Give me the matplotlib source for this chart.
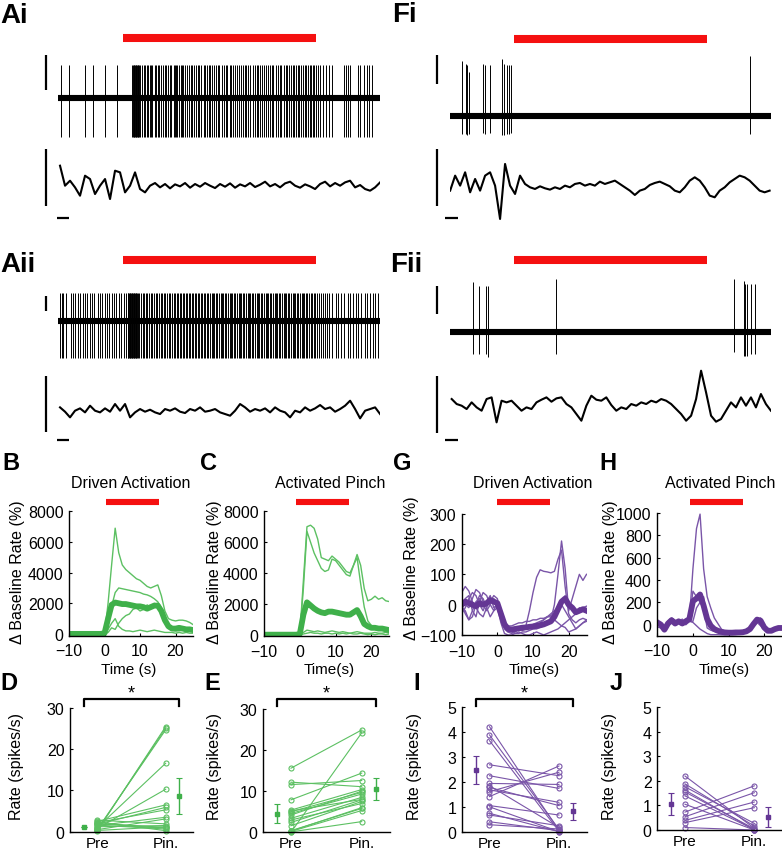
import numpy as np
import matplotlib
matplotlib.use('Agg')
import matplotlib.pyplot as plt
from matplotlib.transforms import blended_transform_factory as btf

plt.rcParams['font.family'] = ['Liberation Sans', 'DejaVu Sans']

# ======================= DATA =======================
# --- raw traces (spike times in s, relative to stimulus onset) ---
ai_spikes = [-4.82, -4.20, -2.90, -2.33, -1.40, -0.41,
             0.75, 0.80, 0.85, 0.90, 0.95, 1.00, 1.05, 1.10, 1.16, 1.22, 1.28, 1.35,
             1.50, 1.62, 1.70, 1.85, 1.93, 2.10, 2.22, 2.30, 2.48, 2.60, 2.75, 2.83, 3.00, 3.12,
             3.30, 3.38, 3.55, 3.70, 3.78, 3.95, 4.10, 4.18, 4.25, 4.40, 4.55, 4.62, 4.70, 4.85,
             5.00, 5.12, 5.30, 5.40, 5.55, 5.70, 5.85, 5.93, 6.10, 6.28, 6.40, 6.55, 6.70, 6.78,
             6.95, 7.10, 7.25, 7.40, 7.50, 7.68, 7.85, 8.00, 8.12, 8.30, 8.45, 8.60, 8.70, 8.88,
             9.05, 9.20, 9.35, 9.50, 9.58, 9.75, 9.92, 10.10, 10.25, 10.40, 10.50, 10.70, 10.85,
             11.00, 11.15, 11.30, 11.45, 11.60, 11.70, 11.90, 12.05, 12.20, 12.30, 12.50, 12.65,
             12.80, 12.90, 13.05, 13.20, 13.30, 13.45, 13.60, 13.72, 13.85, 14.00, 14.15, 14.25,
             14.40, 14.55, 14.62, 14.75, 14.90, 15.05, 15.20, 15.35, 15.55, 15.80, 16.05, 16.30,
             17.20, 17.35, 17.50, 17.65, 18.30, 18.45, 18.75, 18.95, 19.10, 19.35]
aii_spikes = [-4.90, -4.75, -4.60, -4.40, -4.05, -3.90, -3.70, -3.50, -3.35, -3.10, -2.95, -2.80,
              -2.55, -2.40, -2.20, -1.95, -1.80, -1.60, -1.40, -1.25, -1.05, -0.85, -0.70, -0.50,
              -0.30, -0.10, 0.10, 0.25,
              0.40, 0.45, 0.50, 0.55, 0.60, 0.65, 0.70, 0.75, 0.80, 0.85, 0.90, 0.95, 1.00, 1.05,
              1.10, 1.15,
              1.30, 1.42, 1.55, 1.68, 1.80, 1.90, 2.05, 2.18, 2.30, 2.40, 2.55, 2.70, 2.80, 2.95,
              3.08, 3.20, 3.30, 3.45, 3.60, 3.70, 3.82, 3.95, 4.10, 4.20, 4.32, 4.45, 4.55, 4.68,
              4.80, 4.90, 5.02, 5.15, 5.25, 5.38, 5.50, 5.60, 5.72, 5.85, 5.95, 6.08, 6.20, 6.30,
              6.42, 6.55, 6.65, 6.78, 6.90, 7.00, 7.12, 7.25, 7.35, 7.48, 7.60, 7.70, 7.82, 7.95,
              8.05, 8.18, 8.30, 8.40, 8.52, 8.65, 8.75, 8.88, 9.00, 9.10, 9.22, 9.35, 9.45, 9.58,
              9.70, 9.80, 9.92, 10.05, 10.15, 10.28, 10.40, 10.50, 10.62, 10.75, 10.85, 10.98,
              11.10, 11.20, 11.32, 11.45, 11.55, 11.68, 11.80, 11.90, 12.02, 12.15, 12.25, 12.38,
              12.50, 12.60, 12.72, 12.85, 12.95, 13.08, 13.20, 13.30, 13.42, 13.55, 13.65, 13.78,
              13.90, 14.00, 14.12, 14.25, 14.35, 14.48, 14.60, 14.72, 14.85, 14.98, 15.10, 15.25,
              15.40, 15.55, 15.70, 15.85, 16.00,
              16.30, 16.55, 16.70, 17.00, 17.20, 17.50, 17.70, 17.90, 18.15, 18.30, 18.55, 18.80,
              19.00, 19.20, 19.45, 19.60, 19.85]
fi_spikes = [-4.10, -3.76, -3.66, -3.53, -2.41, -2.26, -1.89, -0.98, -0.78, -0.59, -0.44, -0.26, 18.37]
fi_up = [1.24, 1.16, 1.13, 0.98, 1.16, 1.13, 1.13, 1.27, 1.16, 1.13, 1.13, 1.13, 1.35]
fi_down = [-0.39, -0.39, -0.41, -0.39, -0.37, -0.39, -0.37, -0.41, -0.41, -0.39, -0.39, -0.37, -0.39]
fii_spikes = [-3.24, -2.72, -2.21, -2.03, 3.22, 17.12, 17.90, 18.00, 18.11, 18.45, 18.76]
fii_up = [1.11, 1.04, 1.04, 1.04, 1.18, 1.18, 1.15, 1.08, 1.08, 1.08, 1.08]
fii_down = [-0.48, -0.48, -0.48, -0.55, -0.48, -0.44, -0.52, -0.52, -0.52, -0.48, -0.48]

# --- field potentials (arbitrary units, evenly sampled over the trace) ---
ai_lfp = [0.60, 0.00, 0.15, -0.05, -0.30, 0.30, 0.20, -0.25, 0.00, 0.20, -0.40, 0.45, 0.40,
          -0.20, 0.00, 0.40, -0.10, -0.20, 0.00, 0.08, -0.05, 0.05, -0.08, 0.04, -0.02, 0.08,
          -0.06, 0.05, -0.03, 0.08, 0.00, -0.07, 0.05, -0.03, 0.07, -0.06, 0.04, -0.02, 0.08,
          -0.04, 0.03, 0.12, -0.02, 0.05, -0.05, 0.07, 0.12, 0.00, -0.06, 0.04, -0.02, -0.10,
          0.05, 0.12, -0.02, 0.08, 0.00, 0.10, 0.15, -0.05, 0.02, -0.10, -0.15, -0.05, 0.10]
aii_lfp = [0.10, -0.03, -0.20, 0.00, 0.07, -0.05, 0.15, 0.00, -0.05, 0.07, -0.03, 0.20, 0.00,
           0.20, -0.20, -0.05, 0.05, -0.03, 0.03, -0.05, -0.10, 0.05, 0.00, 0.07, -0.03, -0.07,
           0.05, 0.00, 0.10, -0.03, 0.00, 0.05, -0.05, -0.10, -0.15, 0.00, 0.20, 0.10, -0.03,
           0.05, 0.00, 0.07, -0.05, 0.10, 0.00, -0.05, -0.20, 0.00, -0.05, 0.10, 0.00, 0.07,
           0.17, 0.05, 0.10, -0.03, 0.05, 0.15, 0.30, 0.05, -0.23, 0.00, 0.05, 0.10, -0.10]
fi_lfp = [-0.10, 0.35, 0.05, 0.45, -0.15, 0.25, -0.10, 0.35, 0.45, 0.05, -0.95, 0.70, 0.05,
          -0.20, 0.35, 0.10, 0.00, -0.05, 0.03, -0.03, -0.07, 0.00, -0.05, 0.05, 0.00, 0.10,
          0.13, 0.05, 0.10, 0.05, 0.17, 0.10, 0.15, 0.20, 0.10, 0.00, -0.10, -0.23, -0.10,
          -0.05, 0.07, 0.13, 0.17, 0.10, 0.03, -0.10, -0.15, 0.00, 0.20, 0.30, 0.20, 0.00,
          -0.25, -0.30, -0.10, 0.00, 0.15, 0.25, 0.35, 0.30, 0.20, 0.05, -0.10, -0.15, -0.10]
fii_lfp = [0.20, 0.05, 0.00, -0.10, 0.10, -0.05, -0.15, 0.20, 0.25, -0.50, 0.15, 0.10, 0.15,
           0.00, -0.15, -0.05, -0.10, 0.10, 0.18, 0.25, 0.12, 0.22, 0.25, 0.05, -0.05, -0.25,
           -0.45, 0.00, 0.30, 0.18, 0.15, 0.25, 0.02, -0.15, -0.05, -0.10, 0.05, 0.00, 0.10,
           0.05, 0.15, 0.10, 0.20, 0.15, 0.05, -0.10, -0.25, -0.45, -0.30, 0.20, 1.05, 0.40,
           -0.30, -0.48, -0.40, -0.15, 0.10, -0.05, 0.25, 0.00, 0.25, -0.05, 0.35, 0.05, -0.15]

# --- rate time courses (% change from baseline), 1-s bins from -10 to 25 s ---
t_bins = np.arange(-10, 26)
b_traces = [
    [0, 20, 0, 10, 0, 0, 20, 0, 10, 0, 0, 2000, 4500, 6900, 5300, 4500, 4200, 4000, 3800, 3600,
     3500, 3300, 3100, 3000, 3100, 3200, 2500, 1500, 1000, 900, 850, 900, 900, 850, 750, 600],
    [0, 0, 10, 0, 0, 20, 0, 0, 0, 10, 0, 800, 1800, 2700, 3000, 2950, 2900, 2850, 2800, 2750,
     2700, 2600, 2550, 2450, 2300, 2100, 1700, 1100, 500, 300, 300, 250, 300, 250, 300, 350],
    [10, 0, 0, 0, 10, 0, 0, 10, 0, 0, 0, 100, 400, 300, 700, 1000, 1200, 1300, 1600, 1700,
     1500, 1600, 1900, 1700, 2000, 1800, 1400, 800, 400, 250, 200, 200, 250, 200, 200, 150],
    [0, 10, 0, 0, 0, 10, 0, 0, 20, 0, 0, 300, 700, 1000, 500, 300, 200, 200, 150, 200,
     250, 200, 150, 200, 250, 200, 150, 100, 100, 100, 50, 100, 50, 100, 50, 50],
]
b_mean = [0, 5, 5, 5, 5, 5, 5, 5, 5, 5, 50, 1000, 1900, 2050, 2000, 1950, 1950, 1900, 1850, 1800,
          1800, 1750, 1650, 1750, 1850, 1850, 1500, 900, 500, 350, 350, 400, 350, 300, 300, 250]
c_traces = [
    [0, 10, 0, 0, 20, 0, 0, 10, 0, 0, 0, 3500, 7000, 7100, 6900, 6200, 5000, 4900, 4800, 5100,
     4900, 4700, 4400, 4100, 4000, 4500, 5200, 4500, 3000, 2200, 2300, 2500, 2300, 2400, 2200, 2150],
    [0, 0, 10, 0, 0, 10, 0, 0, 0, 10, 0, 3000, 6700, 6000, 5300, 4800, 4300, 4100, 4200, 4900,
     4800, 4500, 4200, 3900, 3800, 4500, 5000, 3300, 1800, 900, 600, 450, 400, 350, 300, 300],
    [0, 0, 0, 10, 0, 0, 10, 0, 0, 0, 0, 150, 300, 250, 200, 250, 200, 150, 200, 250,
     200, 150, 200, 150, 100, 150, 200, 150, 100, 100, 100, 150, 100, 100, 150, 100],
    [10, 0, 0, 0, 0, 0, 0, 10, 0, 0, 0, 50, 100, 150, 100, 100, 50, 100, 100, 50,
     100, 50, 100, 50, 100, 50, 50, 100, 50, 0, 50, 0, 50, 50, 0, 50],
]
c_mean = [0, 5, 5, 5, 5, 5, 5, 5, 5, 5, 50, 1300, 2100, 1900, 1700, 1550, 1450, 1400, 1500, 1500,
          1450, 1400, 1350, 1300, 1300, 1450, 1600, 1200, 700, 550, 450, 450, 400, 400, 350, 300]
g_traces = [
    [40, 60, 45, 10, -10, -30, -40, -10, 20, 10, 0, -50, -80, -90, -95, -90, -80, -75, -70, -20,
     40, 90, 115, 110, 108, 105, 110, 150, 180, 60, -30, -50, -60, -50, -45, -50],
    [-30, -10, 20, 40, 30, 0, -20, 10, 30, -10, 0, -40, -70, -85, -90, -95, -95, -90, -90, -85,
     -80, -80, -75, -70, -60, -50, 0, 100, 210, 120, -20, 20, 60, 100, 80, 100],
    [0, 20, 30, -20, -40, 10, 40, 30, 0, -20, 10, -50, -75, -80, -85, -80, -75, -70, -75, -70,
     -65, -60, -55, -50, -40, -35, -30, -20, 0, 30, 10, -20, -30, -10, -20, -15],
    [-10, -20, -50, -40, 0, 30, 20, -10, -40, -20, -10, -60, -95, -100, -100, -95, -90, -95, -100, -100,
     -95, -90, -95, -100, -95, -90, -85, -80, -70, -75, -90, -85, -80, -70, -60, -50],
    [10, 0, -10, 20, 50, 40, 10, 0, 10, 30, 20, -30, -70, -90, -85, -80, -80, -85, -80, -75,
     -70, -65, -60, -50, -40, -30, -20, -10, 0, -20, -40, -60, -80, -70, -60, -55],
    [0, -30, -50, -20, 10, 20, 0, -20, 0, 20, 0, -40, -60, -70, -70, -65, -60, -60, -55, -55,
     -50, -50, -45, -45, -40, -40, -50, -60, -70, -60, -50, -40, -30, -20, -10, -5],
]
g_mean = [0, 10, 5, 0, -5, 5, 0, 5, 15, 10, 5, -30, -65, -80, -82, -80, -78, -76, -75, -73,
          -72, -70, -68, -65, -60, -55, -40, -15, 10, 20, 0, -10, -25, -20, -15, -20]
h_traces = [
    [40, 0, -30, 20, 50, 20, 40, 20, 40, 40, 500, 860, 990, 500, 250, 150, 60, 10, -40, -60,
     -70, -75, -75, -75, -75, -70, -50, 0, 40, 60, 0, -50, -60, -40, -30, -30],
    [-20, -30, -40, 0, 30, 0, 20, 30, 0, 30, 20, -10, -40, -60, -80, -90, -90, -90, -92, -92,
     -90, -90, -90, -85, -80, -70, -40, 0, 20, -10, -40, -60, -60, -50, -40, -40],
    [10, 20, -30, 30, 60, 40, 20, 50, 0, 30, 30, 150, 200, 250, 20, -20, -50, -60, -70, -75,
     -80, -80, -75, -75, -70, -65, -30, 20, 60, 50, -10, -40, -50, -30, -20, -20],
    [30, 10, -50, 0, 40, 20, 30, 40, 20, 50, 300, 250, 200, 150, -30, -50, -60, -70, -70, -75,
     -75, -70, -70, -72, -70, -60, -50, 0, 50, 40, -20, -50, -50, -40, -30, -30],
]
h_mean = [20, 0, -45, 10, 40, 10, 30, 10, 30, 50, 210, 235, 270, 170, 50, -10, -40, -55, -65, -70,
          -72, -72, -70, -70, -68, -60, -40, 5, 45, 35, -25, -55, -55, -40, -30, -30]
stim_B = (0.4, 15.4)
stim_C = (-1.0, 13.8)
stim_G = (-0.2, 14.7)
stim_H = (-0.8, 14.1)

# --- firing rates (spikes/s), paired Pre vs Pinch ---
pre_D = [0.2, 0.4, 0.6, 1.0, 0.8, 2.5, 1.8, 2.2, 1.5, 0.5, 2.8, 1.2, 2.0, 1.6, 2.4, 0.3, 1.9]
pin_D = [25.5, 25.1, 24.7, 16.6, 10.3, 6.5, 5.9, 5.3, 3.5, 3.1, 1.9, 1.5, 1.05, 0.65, 0.25, 1.2, 0.9]
mean_D = [1.2, 8.7]
err_D = [0.0, 4.4]
pre_E = [15.6, 12.2, 11.6, 7.9, 5.4, 5.0, 4.6, 3.4, 2.4, 1.6, 0.4, 0.2, 0.0, 0.1, 4.2, 3.0, 0.3, 5.2]
pin_E = [24.9, 11.1, 12.6, 14.4, 10.4, 9.7, 9.3, 8.5, 7.9, 7.5, 5.8, 5.3, 24.2, 2.6, 10.0, 7.0, 6.0, 8.0]
mean_E = [4.5, 10.5]
err_E = [2.3, 2.6]
pre_I = [4.22, 3.89, 3.66, 2.69, 2.25, 1.94, 1.85, 1.78, 1.68, 1.61, 1.41, 1.05, 0.74, 0.67, 0.40, 0.28, 1.0]
pin_I = [0.05, 0.10, 0.02, 2.25, 1.74, 1.90, 0.17, 1.05, 1.18, 2.39, 2.64, 0.67, 0.0, 0.24, 0.04, 0.11, 0.0]
mean_I = [2.48, 0.82]
err_I = [0.57, 0.33]
pre_J = [2.2, 1.88, 1.76, 1.63, 1.55, 1.39, 1.05, 0.73, 0.54, 0.39, 0.30, 0.10]
pin_J = [0.07, 0.16, 0.27, 0.0, 0.05, 0.02, 0.0, 1.8, 1.52, 1.14, 0.91, 0.0]
mean_J = [1.07, 0.53]
err_J = [0.45, 0.42]
cond_labels = ['Pre', 'Pin.']

# ======================= STYLE / LAYOUT =======================
GREEN = '#3fb04a'
GREEN_L = '#5cc062'
PURPLE = '#643694'
PURPLE_L = '#7a55a8'
RED = '#f51010'

W, H = 782, 853
fig = plt.figure(figsize=(W / 100, H / 100), dpi=100)


def ax_px(x0, y0, x1, y1):
    return fig.add_axes([x0 / W, 1 - y1 / H, (x1 - x0) / W, (y1 - y0) / H])


def ftext(x, y, s, **kw):
    fig.text(x / W, 1 - y / H, s, **kw)


def fy(y):
    return 1 - y / H


def trace_panel(x0, x1, base_y, lfp_y, bar_y, spikes, up, down, lfp, lfp_t0, lfp_t1,
                sb_spk, sb_lfp, hb_y, hb_t, sb_t):
    # spike channel (45 px per unit)
    ax = ax_px(x0, base_y - 67.5, x1, base_y + 67.5)
    ax.set_xlim(-5, 20)
    ax.set_ylim(-1.5, 1.5)
    ax.axis('off')
    ax.hlines(0, -5, 20, color='k', lw=4.4)
    ax.vlines(spikes, down, up, color='k', lw=0.7)
    ax.plot([sb_t, sb_t], sb_spk, color='k', lw=1.6, clip_on=False, solid_capstyle='butt')
    tr = btf(ax.transData, fig.transFigure)
    ax.plot([0, 15], [fy(bar_y), fy(bar_y)], color=RED, lw=5.8, transform=tr,
            clip_on=False, solid_capstyle='butt')
    # field potential channel (33.3 px per unit)
    ax2 = ax_px(x0, lfp_y - 40, x1, lfp_y + 40)
    ax2.set_xlim(-5, 20)
    ax2.set_ylim(-1.2, 1.2)
    ax2.axis('off')
    ax2.plot(np.linspace(lfp_t0, lfp_t1, len(lfp)), lfp, color='k', lw=1.5)
    ax2.plot([sb_t, sb_t], sb_lfp, color='k', lw=1.6, clip_on=False, solid_capstyle='butt')
    ax2.plot(hb_t, [hb_y, hb_y], color='k', lw=1.6, clip_on=False, solid_capstyle='butt')


trace_panel(58.35, 380.1, 98.7, 186.7, 39.2, ai_spikes, 0.73, -0.88, ai_lfp, -4.87, 20.0,
            (0.95, 0.18), (1.1, -0.6), -0.98, (-5.13, -4.2), -5.96)
trace_panel(58.35, 380.1, 322.3, 411.7, 261.3, aii_spikes, 0.64, -0.82, aii_lfp, -4.87, 20.0,
            (0.57, 0.24), (1.05, -0.65), -0.87, (-5.08, -4.15), -5.96)
trace_panel(450.15, 770.9, 117.3, 188.3, 39.5, fi_spikes, fi_up, fi_down, fi_lfp, -5.0, 19.9,
            (1.36, 0.72), (1.15, -0.55), -0.93, (-5.4, -4.37), -6.0)
trace_panel(450.15, 770.9, 333.3, 406.7, 261.0, fii_spikes, fii_up, fii_down, fii_lfp, -4.88, 20.0,
            (1.04, 0.41), (0.9, -0.82), -1.02, (-5.4, -4.37), -6.0)

LBL = dict(fontsize=20, fontweight='bold', va='center', ha='left')
ftext(0, 16, 'Ai', **LBL)
ftext(0, 265, 'Aii', **LBL)
ftext(392, 15, 'Fi', **LBL)
ftext(390, 265, 'Fii', **LBL)


def style(ax):
    for s in ['top', 'right']:
        ax.spines[s].set_visible(False)
    for s in ['left', 'bottom']:
        ax.spines[s].set_linewidth(1.0)
    ax.tick_params(direction='in', length=2, width=0.8, labelsize=11.5, pad=4)


def rate_panel(box, traces, mean, color, light, ylim, yticks, stim, title, tx, xlab, xl_x, yl_x,
               xpad, xl_y, yl_y=572):
    ax = ax_px(*box)
    for tr_ in traces:
        ax.plot(t_bins, tr_, color=light, lw=1.0)
    ax.plot(t_bins, mean, color=color, lw=4.2, solid_joinstyle='round')
    ax.set_xlim(-10, 25)
    ax.set_ylim(*ylim)
    ax.set_xticks([-10, 0, 10, 20])
    ax.set_yticks(yticks)
    style(ax)
    ax.tick_params(axis='x', pad=xpad)
    tr = btf(ax.transData, fig.transFigure)
    ax.plot(stim, [fy(503), fy(503)], color=RED, lw=4.4, transform=tr, clip_on=False,
            solid_capstyle='butt')
    ftext(tx, 483.5, title, fontsize=11.5, ha='center', va='center')
    ftext(xl_x, xl_y, xlab, fontsize=11, ha='center', va='center')
    ftext(yl_x, yl_y, '\u0394 Baseline Rate (%)', fontsize=11.5, ha='center', va='center',
          rotation=90)
    return ax


rate_panel((69, 512.3, 193.3, 636.5), b_traces, b_mean, GREEN, GREEN_L, (-100, 8000),
           [0, 2000, 4000, 6000, 8000], stim_B, 'Driven Activation', 131, 'Time (s)', 128.5, 18,
           5.5, 670)
rate_panel((264, 512.3, 389.3, 637.3), c_traces, c_mean, GREEN, GREEN_L, (-100, 8000),
           [0, 2000, 4000, 6000, 8000], stim_C, 'Activated Pinch', 330, 'Time(s)', 329, 214,
           5.5, 670)
rate_panel((461.7, 514.7, 586.5, 636.0), g_traces, g_mean, PURPLE, PURPLE_L, (-100, 300),
           [-100, 0, 100, 200, 300], stim_G, 'Driven Activation', 533, 'Time(s)', 534, 411.5,
           6.5, 670, 568)
rate_panel((657.3, 514.0, 782, 636.8), h_traces, h_mean, PURPLE, PURPLE_L, (-100, 1000),
           [0, 200, 400, 600, 800, 1000], stim_H, 'Activated Pinch', 720, 'Time(s)', 724, 611,
           5.5, 670)

LBL2 = dict(fontsize=17, fontweight='bold', va='center', ha='left')
ftext(2, 464, 'B', **LBL2)
ftext(200, 464, 'C', **LBL2)
ftext(393, 464, 'G', **LBL2)
ftext(599, 464, 'H', **LBL2)
ftext(0, 683.5, 'D', **LBL2)
ftext(204, 683.5, 'E', **LBL2)
ftext(413, 683.5, 'I', **LBL2)
ftext(610, 683.5, 'J', **LBL2)


def pair_panel(box, pre, pin, means, errs, color, light, ytop, yticks, star, yl_x):
    ax = ax_px(*box)
    for a, b in zip(pre, pin):
        ax.plot([1, 2], [a, b], color=light, lw=0.8, marker='o', ms=3.6, mfc='none',
                mec=light, mew=0.8, clip_on=False)
    ax.errorbar([0.8, 2.2], means, yerr=errs, fmt='s', ms=2.6, color=color, ecolor=color,
                elinewidth=1.0, capsize=2, capthick=0.8, clip_on=False)
    ax.set_xlim(0.6, 2.4)
    ax.set_ylim(0, ytop)
    ax.set_yticks(yticks)
    ax.set_xticks([1, 2])
    ax.set_xticklabels(cond_labels)
    style(ax)
    ax.tick_params(axis='x', length=0, pad=3, labelsize=11)
    if star:
        tr = btf(ax.transData, fig.transFigure)
        ax.plot([0.8, 0.8, 2.2, 2.2], [fy(706.7), fy(700), fy(700), fy(706.7)], color='k',
                lw=1.6, transform=tr, clip_on=False)
        ax.text(1.5, fy(698.5), '*', transform=tr, ha='center', va='baseline', fontsize=13)
    ftext(yl_x, 767, 'Rate (spikes/s)', fontsize=11.5, ha='center', va='center', rotation=90)


pair_panel((70, 709, 193, 832.7), pre_D, pin_D, mean_D, err_D, GREEN, GREEN_L, 30,
           [0, 10, 20, 30], True, 17)
pair_panel((262.7, 710, 390, 833.3), pre_E, pin_E, mean_E, err_E, GREEN, GREEN_L, 30,
           [0, 10, 20, 30], True, 214)
pair_panel((461.7, 708.3, 586.7, 832.7), pre_I, pin_I, mean_I, err_I, PURPLE, PURPLE_L, 5,
           [0, 1, 2, 3, 4, 5], True, 414.5)
pair_panel((657.3, 708.3, 782, 831.0), pre_J, pin_J, mean_J, err_J, PURPLE, PURPLE_L, 5,
           [0, 1, 2, 3, 4, 5], False, 609.5)

fig.savefig('out.png', dpi=100)
